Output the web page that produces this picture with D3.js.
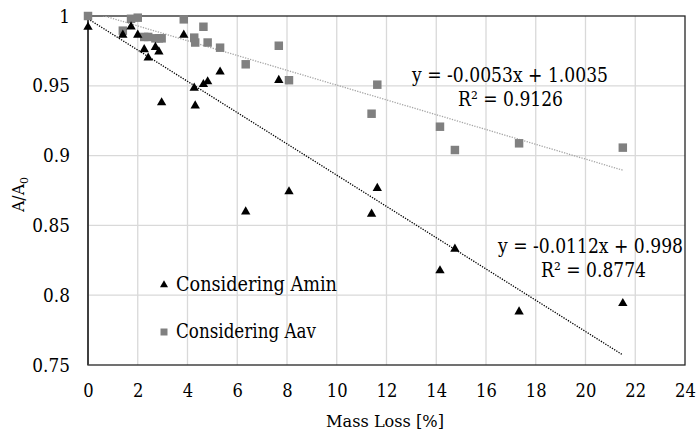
<!DOCTYPE html>
<html><head><meta charset="utf-8">
<script src="https://cdn.jsdelivr.net/npm/d3@7"></script>
<style>body{margin:0;background:#fff}svg{display:block}</style>
</head><body><svg id="c" width="698" height="432"></svg>
<script>
const massLoss = [0,1.4,1.73,2.0,2.26,2.42,2.71,2.85,2.96,3.85,4.27,4.31,4.64,4.81,5.31,6.34,7.67,8.08,11.4,11.63,14.15,14.75,17.33,21.5];
const aminValues = [0.992,0.9864,0.9923,0.9864,0.976,0.970,0.9776,0.9744,0.938,0.9864,0.9484,0.9357,0.951,0.953,0.960,0.8598,0.954,0.8742,0.8582,0.8766,0.8176,0.8331,0.7882,0.7942];
const aavValues  = [1.0,0.9895,0.998,0.9988,0.985,0.985,0.984,0.984,0.984,0.9976,0.9845,0.981,0.9923,0.981,0.9773,0.9654,0.9787,0.954,0.930,0.9508,0.9207,0.904,0.9088,0.9057];
const xTicks = [0,2,4,6,8,10,12,14,16,18,20,22,24];
const yTicks = [0.75,0.8,0.85,0.9,0.95,1];
const aminFit = {slope:-0.0112, intercept:0.998, eq:"y = -0.0112x + 0.998", r2:"R² = 0.8774"};
const aavFit  = {slope:-0.0053, intercept:1.0035, eq:"y = -0.0053x + 1.0035", r2:"R² = 0.9126"};
const seriesNames = ["Considering Amin","Considering Aav"];

const FONT = "DejaVu Serif";
const svg = d3.select("#c");
const L=88, R=685, T=16, B=365;
const x = d3.scaleLinear().domain([0,24]).range([L,R]);
const y = d3.scaleLinear().domain([0.75,1]).range([B,T]);

function fit(sel, w){ sel.attr("textLength", w).attr("lengthAdjust","spacingAndGlyphs"); }
function squeeze(sel, k){ sel.each(function(){ const n=this.getComputedTextLength(); d3.select(this).attr("textLength", n*k).attr("lengthAdjust","spacingAndGlyphs"); }); }

svg.append("defs").append("clipPath").attr("id","clip").append("rect")
  .attr("x",L).attr("y",T).attr("width",R-L).attr("height",B-T);

svg.append("g").selectAll("line").data(xTicks.slice(1,-1)).join("line")
  .attr("x1",d=>x(d)).attr("x2",d=>x(d)).attr("y1",T).attr("y2",B)
  .attr("stroke","#d9d9d9").attr("stroke-width",1.3);
svg.append("g").selectAll("line").data(yTicks.slice(1,-1)).join("line")
  .attr("x1",L).attr("x2",R).attr("y1",d=>y(d)).attr("y2",d=>y(d))
  .attr("stroke","#d9d9d9").attr("stroke-width",1.3);

svg.append("rect").attr("x",L).attr("y",T).attr("width",R-L).attr("height",B-T)
  .attr("fill","none").attr("stroke","#262626").attr("stroke-width",1.3);
svg.append("line").attr("x1",L).attr("x2",L).attr("y1",T).attr("y2",B)
  .attr("stroke","#404040").attr("stroke-width",2);

const xAxis = svg.append("g").attr("transform",`translate(0,${B})`)
  .call(d3.axisBottom(x).tickValues(xTicks).tickSize(0).tickPadding(19).tickFormat(d3.format("d")));
xAxis.attr("font-family",FONT).attr("font-size",19);
xAxis.select(".domain").remove();
xAxis.selectAll("text").attr("fill","#000").call(squeeze,0.86);
const yAxis = svg.append("g").attr("transform",`translate(${L},0)`)
  .call(d3.axisLeft(y).tickValues(yTicks).tickSize(0).tickPadding(18).tickFormat(d=>String(+d.toFixed(2))));
yAxis.attr("font-family",FONT).attr("font-size",19);
yAxis.select(".domain").remove();
yAxis.selectAll("text").attr("fill","#000").call(squeeze,0.89);

const g = svg.append("g").attr("clip-path","url(#clip)");
const xmax = d3.max(massLoss), xmin = d3.min(massLoss);
const line = d3.line().x(d=>x(d[0])).y(d=>y(d[1]));
g.append("path").datum([[xmin,aavFit.intercept+aavFit.slope*xmin],[xmax,aavFit.intercept+aavFit.slope*xmax]])
  .attr("d",line).attr("stroke","#a6a6a6").attr("stroke-width",1.3).attr("stroke-dasharray","1.3,1.3").attr("fill","none");
g.append("path").datum([[xmin,aminFit.intercept+aminFit.slope*xmin],[xmax,aminFit.intercept+aminFit.slope*xmax]])
  .attr("d",line).attr("stroke","#000").attr("stroke-width",1.3).attr("stroke-dasharray","1.3,1.3").attr("fill","none");

const sq = d3.symbol().type(d3.symbolSquare).size(72);
const tri = d3.symbol().type(d3.symbolTriangle).size(38);
svg.append("g").selectAll("path").data(massLoss.map((m,i)=>[m,aavValues[i]])).join("path")
  .attr("d",sq).attr("transform",d=>`translate(${x(d[0])},${y(d[1])})`).attr("fill","#808080");
svg.append("g").selectAll("path").data(massLoss.map((m,i)=>[m,aminValues[i]])).join("path")
  .attr("d",tri).attr("transform",d=>`translate(${x(d[0])},${y(d[1])})`).attr("fill","#000");

const eq = svg.append("g").attr("font-family",FONT).attr("font-size",20).attr("fill","#000");
eq.append("text").attr("x",412).attr("y",82).text(aavFit.eq).call(fit,196);
eq.append("text").attr("x",458).attr("y",106).text(aavFit.r2).call(fit,105);
eq.append("text").attr("x",498).attr("y",253).text(aminFit.eq).call(fit,185);
eq.append("text").attr("x",541).attr("y",277).text(aminFit.r2).call(fit,105);

const lg = svg.append("g").attr("font-family",FONT).attr("font-size",20);
lg.append("path").attr("d",d3.symbol().type(d3.symbolTriangle).size(28)).attr("transform","translate(164,285)").attr("fill","#000");
lg.append("text").attr("x",176).attr("y",291).text(seriesNames[0]).call(fit,161);
lg.append("path").attr("d",d3.symbol().type(d3.symbolSquare).size(49)).attr("transform","translate(164,332)").attr("fill","#808080");
lg.append("text").attr("x",176).attr("y",338).text(seriesNames[1]).call(fit,140);

svg.append("text").attr("font-family",FONT).attr("x",326).attr("y",427).attr("font-size",17).text("Mass Loss [%]").call(fit,118);
const yt = svg.append("text").attr("font-family",FONT).attr("transform",`translate(24,212) rotate(-90)`).attr("font-size",17);
yt.append("tspan").text("A/A").call(fit,28);
yt.append("tspan").attr("font-size",11).attr("dy",4).text("0");
</script></body></html>
